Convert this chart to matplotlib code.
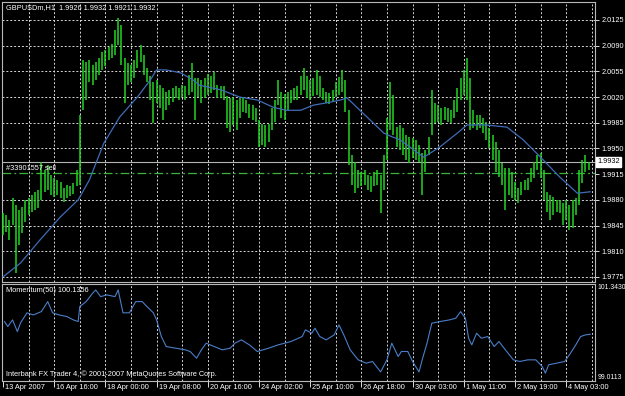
import matplotlib
matplotlib.use('Agg')
import matplotlib.pyplot as plt
from matplotlib.transforms import blended_transform_factory

plt.rcParams['font.family'] = ['Liberation Sans', 'DejaVu Sans']

# GBPUSDm H1 bars, sampled every 2 hours (index = hour bar)
bar_hours = list(range(0, 368, 2))
highs = [
    1.9862, 1.9859, 1.9853, 1.9883, 1.9873, 1.9866, 1.9870, 1.9880, 1.9883, 1.9887,
    1.9891, 1.9893, 1.9932, 1.9921, 1.9927, 1.9914, 1.9910, 1.9907, 1.9904, 1.9896,
    1.9900, 1.9899, 1.9903, 1.9921, 1.9996, 2.0070, 2.0068, 2.0070, 2.0064, 2.0068,
    2.0073, 2.0081, 2.0084, 2.0088, 2.0092, 2.0111, 2.0128, 2.0118, 2.0073, 2.0066,
    2.0064, 2.0070, 2.0084, 2.0091, 2.0077, 2.0060, 2.0049, 2.0041, 2.0043, 2.0036,
    2.0032, 2.0027, 2.0030, 2.0032, 2.0035, 2.0032, 2.0036, 2.0035, 2.0050, 2.0066,
    2.0046, 2.0046,
    2.0043, 2.0046, 2.0051, 2.0049, 2.0054, 2.0036, 2.0035, 2.0035, 2.0021, 2.0019,
    2.0020, 2.0016, 2.0019, 2.0020, 2.0016, 2.0011, 2.0009, 2.0005, 1.9989, 1.9983,
    1.9982, 1.9983, 2.0005, 2.0016, 2.0043, 2.0027, 2.0024, 2.0027, 2.0030, 2.0032,
    2.0035, 2.0049, 2.0060, 2.0049, 2.0043, 2.0046, 2.0057, 2.0049, 2.0032, 2.0027,
    2.0026, 2.0030, 2.0041, 2.0047, 2.0057, 2.0043, 2.0002, 1.9941, 1.9932, 1.9921,
    1.9918, 1.9921, 1.9914, 1.9912, 1.9918, 1.9921, 1.9914, 1.9941, 1.9992, 2.0041,
    2.0023, 1.9979,
    1.9982, 1.9978, 1.9968, 1.9966, 1.9964, 1.9962, 1.9955, 1.9944, 1.9948, 1.9966,
    2.0030, 2.0012, 2.0009, 2.0005, 2.0006, 2.0005, 2.0002, 2.0016, 2.0032, 2.0046,
    2.0057, 2.0073, 2.0046, 2.0002, 1.9996, 1.9996, 1.9992, 1.9986, 1.9978, 1.9968,
    1.9959, 1.9948, 1.9930, 1.9923, 1.9923, 1.9918, 1.9904, 1.9896, 1.9904, 1.9907,
    1.9910, 1.9923, 1.9932, 1.9941, 1.9944, 1.9921, 1.9891, 1.9887, 1.9884, 1.9880,
    1.9880, 1.9876, 1.9880, 1.9873, 1.9880, 1.9883, 1.9921, 1.9934, 1.9941, 1.9932,
]
lows = [
    1.9832, 1.9836, 1.9825, 1.9846, 1.9780, 1.9819, 1.9835, 1.9850, 1.9859, 1.9864,
    1.9866, 1.9869, 1.9880, 1.9891, 1.9893, 1.9887, 1.9884, 1.9887, 1.9883, 1.9877,
    1.9883, 1.9885, 1.9888, 1.9899, 1.9900, 2.0002, 2.0016, 2.0041, 2.0036, 2.0043,
    2.0050, 2.0057, 2.0062, 2.0070, 2.0073, 2.0077, 2.0091, 2.0064, 2.0012, 2.0036,
    2.0041, 2.0046, 2.0060, 2.0068, 2.0050, 2.0041, 2.0016, 1.9985, 2.0012, 2.0005,
    1.9989, 2.0002, 2.0009, 2.0013, 2.0019, 2.0016, 2.0020, 2.0016, 2.0023, 2.0027,
    1.9989, 2.0020,
    2.0012, 2.0019, 2.0023, 2.0026, 2.0030, 2.0019, 2.0019, 2.0016, 1.9978, 1.9972,
    1.9982, 1.9975, 1.9992, 2.0000, 1.9998, 1.9992, 1.9989, 1.9986, 1.9952, 1.9955,
    1.9952, 1.9959, 1.9975, 1.9986, 2.0009, 1.9992, 1.9989, 2.0002, 2.0012, 2.0016,
    2.0016, 2.0023, 2.0030, 2.0019, 2.0016, 2.0021, 2.0023, 2.0020, 2.0016, 2.0012,
    2.0011, 2.0013, 2.0020, 2.0023, 2.0027, 2.0000, 1.9927, 1.9900, 1.9889, 1.9896,
    1.9899, 1.9900, 1.9893, 1.9891, 1.9899, 1.9900, 1.9862, 1.9893, 1.9934, 1.9975,
    1.9968, 1.9952,
    1.9948, 1.9941, 1.9934, 1.9930, 1.9937, 1.9934, 1.9932, 1.9887, 1.9918, 1.9941,
    1.9968, 1.9985, 1.9986, 1.9982, 1.9989, 1.9986, 1.9985, 1.9992, 2.0000, 2.0016,
    2.0023, 2.0016, 1.9975, 1.9978, 1.9975, 1.9978, 1.9971, 1.9962, 1.9951, 1.9934,
    1.9918, 1.9911, 1.9900, 1.9866, 1.9887, 1.9883, 1.9880, 1.9876, 1.9887, 1.9893,
    1.9893, 1.9904, 1.9910, 1.9921, 1.9910, 1.9880, 1.9864, 1.9853, 1.9859, 1.9864,
    1.9862, 1.9846, 1.9853, 1.9839, 1.9842, 1.9859, 1.9873, 1.9903, 1.9918, 1.9921,
]

# moving average (blue line on the price window)
ma_hours = [0, 11, 23, 36, 47, 54, 63, 73, 84, 92, 96, 102, 111, 119, 123, 136, 148,
            159, 169, 177, 186, 194, 202, 211, 215, 225, 238, 243, 248, 263, 273, 284,
            290, 302, 315, 325, 336, 348, 359, 367]
ma_vals = [1.9775, 1.9794, 1.9825, 1.9857, 1.9880, 1.9907, 1.9957, 1.9993, 2.0020,
           2.0043, 2.0057, 2.0057, 2.0053, 2.0043, 2.0036, 2.0030, 2.0020, 2.0016,
           2.0006, 2.0002, 2.0002, 2.0009, 2.0012, 2.0016, 2.0019, 1.9998, 1.9971,
           1.9966, 1.9962, 1.9938, 1.9952, 1.9971, 1.9982, 1.9982, 1.9979, 1.9962,
           1.9938, 1.9911, 1.9889, 1.9891]

# Momentum(50)
mom_hours = [1, 3, 6, 9, 11, 15, 19, 24, 28, 31, 35, 40, 44, 47, 48, 52, 56, 58, 61,
             65, 70, 72, 75, 79, 83, 87, 90, 94, 96, 99, 102, 108, 114, 117, 121, 124,
             127, 132, 137, 142, 145, 149, 154, 159, 166, 172, 180, 187, 189, 193, 195,
             198, 202, 207, 210, 213, 217, 222, 227, 231, 236, 240, 243, 247, 249, 253,
             256, 260, 262, 265, 268, 273, 279, 283, 286, 289, 291, 293, 296, 299, 303,
             307, 310, 314, 319, 323, 328, 333, 337, 339, 341, 346, 351, 354, 358, 361,
             364, 367]
mom_vals = [100.44, 100.32, 100.48, 100.20, 100.41, 100.65, 100.60, 100.68, 100.92,
            100.65, 100.60, 100.56, 100.48, 100.44, 100.80, 100.92, 101.12, 101.20,
            101.04, 101.08, 101.04, 101.20, 100.65, 100.65, 100.92, 100.92, 100.80,
            100.65, 100.48, 100.08, 99.84, 99.80, 99.76, 99.72, 99.56, 99.76, 99.92,
            99.84, 99.76, 99.80, 99.92, 100.00, 99.88, 99.72, 99.80, 99.88, 99.96,
            100.08, 100.24, 100.16, 100.28, 100.08, 100.00, 100.12, 100.36, 100.12,
            99.76, 99.52, 99.44, 99.48, 99.23, 99.52, 99.92, 99.60, 99.72, 99.72,
            99.48, 99.23, 99.52, 99.92, 100.40, 100.44, 100.48, 100.52, 100.68, 100.52,
            100.04, 99.88, 100.16, 100.04, 100.08, 99.84, 99.96, 99.76, 99.52, 99.48,
            99.52, 99.52, 99.36, 99.20, 99.40, 99.44, 99.48, 99.64, 99.88, 100.08,
            100.12, 100.1356]

price_levels = [2.0125, 2.0090, 2.0055, 2.0020, 1.9985, 1.9950, 1.9915, 1.9880,
                1.9845, 1.9810, 1.9775]
label_hours = [0, 32, 64, 96, 128, 160, 192, 224, 256, 288, 320, 352]
time_labels = ['13 Apr 2007', '16 Apr 16:00', '18 Apr 00:00', '19 Apr 08:00',
               '20 Apr 16:00', '24 Apr 02:00', '25 Apr 10:00', '26 Apr 18:00',
               '30 Apr 03:00', '1 May 11:00', '2 May 19:00', '4 May 03:00']
bid = 1.9932
order_price = 1.9916
mom_max, mom_min = 101.3430, 99.0113

W, H = 625, 396
fig = plt.figure(figsize=(W / 100, H / 100), dpi=100, facecolor='black')
ax = fig.add_axes([2 / W, 1 - 282 / H, 593 / W, 280 / H], facecolor='black')
axm = fig.add_axes([2 / W, 1 - 381 / H, 593 / W, 97 / H], facecolor='black')

grid_kw = dict(color='#d8d8d8', lw=0.7, ls=(0, (2, 2)), zorder=1)
fs = 5.3
for a in (ax, axm):
    a.set_xlim(-0.6, 370)
    for s in a.spines.values():
        s.set_color('#b8b8b8')
        s.set_linewidth(0.8)
    for h in range(16, 369, 16):
        a.axvline(h, **grid_kw)

# price window
ax.set_ylim(1.97681, 2.01495)
for p in price_levels:
    if p != 1.9915:
        ax.axhline(p, **grid_kw)
ax.vlines(bar_hours, lows, highs, color='#22d622', lw=1.1, zorder=3)
ax.plot(ma_hours, ma_vals, color='#3f6cb8', lw=0.9, zorder=4)
ax.axhline(bid, color='#b4b4b4', lw=0.8, zorder=2)
ax.axhline(order_price, color='#3cb43c', lw=0.9, ls=(0, (7, 2.5, 1.5, 2.5)), zorder=2)
ax.set_xticks([])
ax.yaxis.tick_right()
ax.set_yticks(price_levels)
ax.set_yticklabels([f'{p:.4f}' for p in price_levels])
ax.tick_params(axis='y', direction='out', length=3, width=0.6, colors='white',
               labelsize=fs, pad=1.5)
ax.text(0.006, 0.992, 'GBPUSDm,H1  1.9926 1.9932 1.9921 1.9932', transform=ax.transAxes,
        color='white', fontsize=fs, va='top', ha='left')
ax.annotate('#33901557 sell', xy=(2, order_price), xytext=(0, 0.8), textcoords='offset points',
            color='white', fontsize=fs, va='bottom', ha='left')
tr = blended_transform_factory(ax.transAxes, ax.transData)
ax.text(1.004, bid, '1.9932', transform=tr, color='black', fontsize=fs, va='center', ha='left',
        bbox=dict(boxstyle='square,pad=0.2', fc='white', ec='white'))

# momentum window
axm.set_ylim(mom_min, mom_max)
axm.plot(mom_hours, mom_vals, color='#4a7ec8', lw=0.8, zorder=3)
axm.set_yticks([])
axm.set_xticks(label_hours)
axm.set_xticklabels([])
axm.tick_params(axis='x', direction='out', length=4, width=0.6, colors='white')
axm.text(0.006, 0.97, 'Momentum(50) 100.1356', transform=axm.transAxes,
         color='white', fontsize=fs, va='top', ha='left')
axm.text(0.006, 0.03, 'Interbank FX Trader 4, \u00a9 2001-2007 MetaQuotes Software Corp.',
         transform=axm.transAxes, color='white', fontsize=fs, va='bottom', ha='left')
axm.text(1.004, 1.0, f'{mom_max:.4f}', transform=axm.transAxes, color='white',
         fontsize=4.9, va='top', ha='left')
axm.text(1.004, 0.0, f'{mom_min:.4f}', transform=axm.transAxes, color='white',
         fontsize=4.9, va='bottom', ha='left')
for h, lab in zip(label_hours, time_labels):
    axm.annotate(lab, xy=(h, 0), xycoords=('data', 'axes fraction'), xytext=(1.5, -2.5),
                 textcoords='offset points', color='white', fontsize=fs, va='top', ha='left')

fig.savefig('out.png', dpi=100, facecolor='black')
